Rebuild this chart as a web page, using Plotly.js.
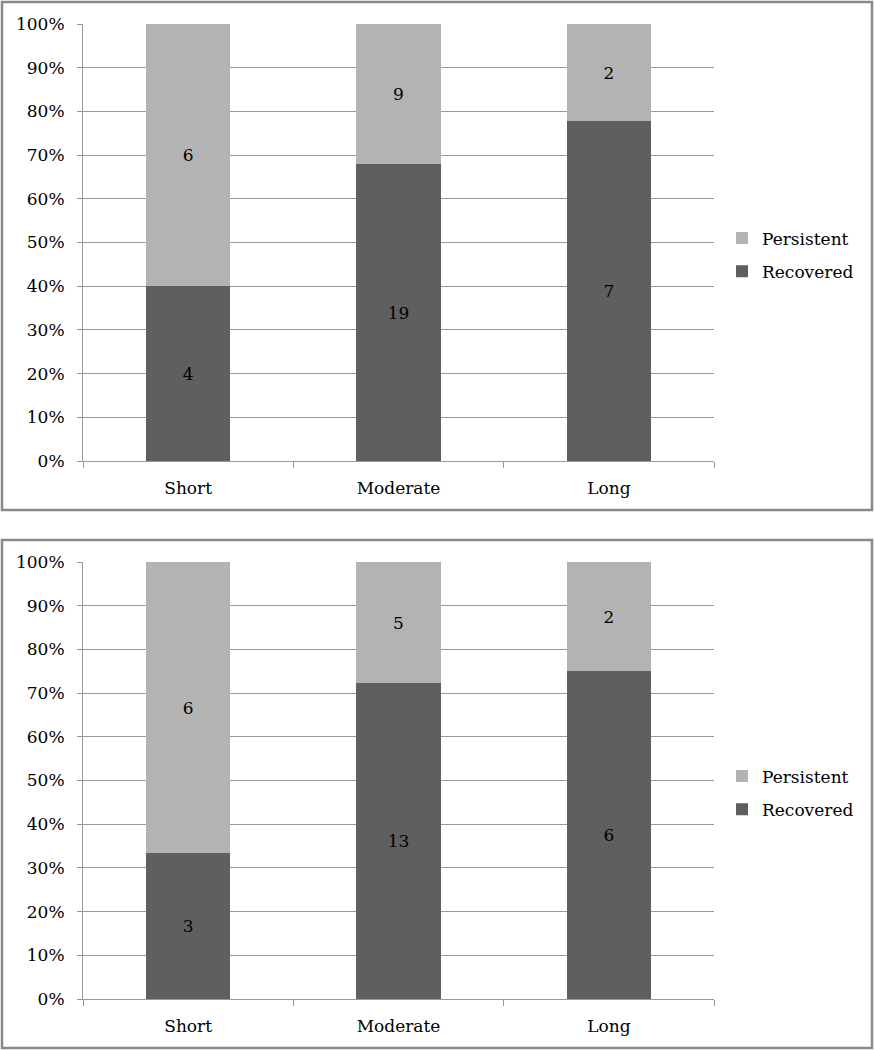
<!DOCTYPE html>
<html><head><meta charset="utf-8">
<script src="https://cdn.plot.ly/plotly-3.0.1.min.js"></script>
<style>body{margin:0;padding:0;background:#fff}#chart{width:875px;height:1050px}</style>
</head><body><div id="chart"></div>
<script>
const categories = ["Short", "Moderate", "Long"];
const recoveredTop = [4, 19, 7];
const persistentTop = [6, 9, 2];
const recoveredBottom = [3, 13, 6];
const persistentBottom = [6, 5, 2];
const yTickVals = [0,10,20,30,40,50,60,70,80,90,100];

const darkC = "#5f5f5f", lightC = "#b3b3b3";
const font = {family: "DejaVu Serif", size: 17, color: "#000"};

function bar(name, vals, color, xa, ya, leg, rank) {
  return {type: "bar", name: name, x: categories, y: vals, text: vals.map(String), legendgroup: name + leg,
    legendrank: rank,
    textposition: "inside", insidetextanchor: "middle", textfont: {family: font.family, size: 17, color: "#000"},
    marker: {color: color, line: {width: 0}}, xaxis: xa, yaxis: ya, legend: leg, hoverinfo: "skip"};
}
const traces = [
  bar("Recovered", recoveredTop, darkC, "x", "y", "legend", 2),
  bar("Persistent", persistentTop, lightC, "x", "y", "legend", 1),
  bar("Recovered", recoveredBottom, darkC, "x2", "y2", "legend2", 2),
  bar("Persistent", persistentBottom, lightC, "x2", "y2", "legend2", 1)
];
const xd = [83/875, 714/875];
function xax(anchor) { return {domain: xd, anchor: anchor, type: "category", tickson: "boundaries",
  ticks: "outside", ticklen: 6, tickcolor: "#999", showgrid: false, showline: true, linecolor: "#999", linewidth: 1,
  tickfont: font, ticklabelstandoff: 12, fixedrange: true}; }
function yax(anchor, dom) { return {domain: dom, anchor: anchor, range: [0, 100], tickvals: yTickVals,
  ticktext: yTickVals.map(v => v + "%"), ticks: "outside", ticklen: 5, tickcolor: "#999",
  showgrid: true, gridcolor: "#999", gridwidth: 1, showline: true, linecolor: "#999", zeroline: false,
  tickfont: font, ticklabelstandoff: 9, fixedrange: true}; }
const legBase = {xanchor: "left", yanchor: "middle", traceorder: "grouped",
  font: font, bgcolor: "rgba(0,0,0,0)", itemwidth: 30, tracegroupgap: 8};
const layout = {
  width: 875, height: 1050, margin: {l: 0, r: 0, t: 0, b: 0},
  paper_bgcolor: "#fff", plot_bgcolor: "#fff", font: font,
  barmode: "stack", barnorm: "percent", bargap: 0.6, showlegend: true,
  xaxis: xax("y"), yaxis: yax("x", [1 - 461/1050, 1 - 24/1050]),
  xaxis2: xax("y2"), yaxis2: yax("x2", [1 - 999/1050, 1 - 562/1050]),
  legend: Object.assign({x: 722/875, y: 1 - 255/1050}, legBase),
  legend2: Object.assign({x: 722/875, y: 1 - 793/1050}, legBase),
  shapes: [
    {type: "rect", xref: "paper", yref: "paper", x0: 2/875, x1: 872/875, y0: 1 - 510/1050, y1: 1 - 2/1050,
      line: {color: "#8a8a8a", width: 2.5}},
    {type: "rect", xref: "paper", yref: "paper", x0: 2/875, x1: 872/875, y0: 1 - 1048/1050, y1: 1 - 540/1050,
      line: {color: "#8a8a8a", width: 2.5}}
  ]
};
Plotly.newPlot("chart", traces, layout, {staticPlot: true, displayModeBar: false});
</script></body></html>
